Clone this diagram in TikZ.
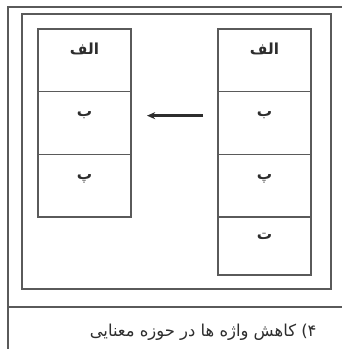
\documentclass[tikz,border=0pt]{standalone}
\usepackage{fontspec}
\newfontfamily\arabicfont[Script=Arabic]{DejaVu Sans}
\TeXXeTstate=1
\definecolor{framegray}{RGB}{90,90,90}
\definecolor{inkgray}{RGB}{45,45,45}
\usetikzlibrary{arrows.meta,positioning}

\begin{document}
\begin{tikzpicture}[
  framestroke/.style={draw=framegray, line width=1.4pt},
  cellbox/.style={draw=framegray, line width=1.2pt, outer sep=0pt, minimum width=2.79cm, minimum height=1.88cm, text height=0.18cm, text depth=0.54cm, font=\arabicfont\fontsize{13}{14}\selectfont\bfseries, text=inkgray},
  lastcell/.style={cellbox, minimum height=1.74cm}
]
  \useasboundingbox (0,0) rectangle (10.26,10.47);
  % outer frame, open on the right
  \draw[framestroke] (10.26,10.26) -- (0.24,10.26) -- (0.24,0);
  \draw[framestroke] (0.24,1.26) -- (10.26,1.26);
  \node[framestroke, minimum width=9.27cm, minimum height=8.25cm] (inner) at (5.295,5.925) {};

  % left column
  \node[cellbox, anchor=north] (l1) at (2.535,9.6) {\beginR الف\endR};
  \node[cellbox, below=0pt of l1] (l2) {\beginR ب\endR};
  \node[cellbox, below=0pt of l2] (l3) {\beginR پ\endR};

  % right column
  \node[cellbox, anchor=north] (r1) at (7.935,9.6) {\beginR الف\endR};
  \node[cellbox, below=0pt of r1] (r2) {\beginR ب\endR};
  \node[cellbox, below=0pt of r2] (r3) {\beginR پ\endR};
  \node[lastcell, below=0pt of r3] (r4) {\beginR ت\endR};

  \draw[-{Stealth[length=7pt,width=6pt]}, line width=2pt, draw=inkgray, shorten >=0.48cm, shorten <=0.45cm] ([yshift=0.22cm]r2.west) -- ([yshift=0.22cm]l2.east);

  \node[anchor=east, font=\arabicfont\fontsize{14}{16}\selectfont, text=inkgray] (caption) at (9.62,0.5) {\beginR ۴) کاهش واژه ها در حوزه معنایی\endR};
\end{tikzpicture}
\end{document}
